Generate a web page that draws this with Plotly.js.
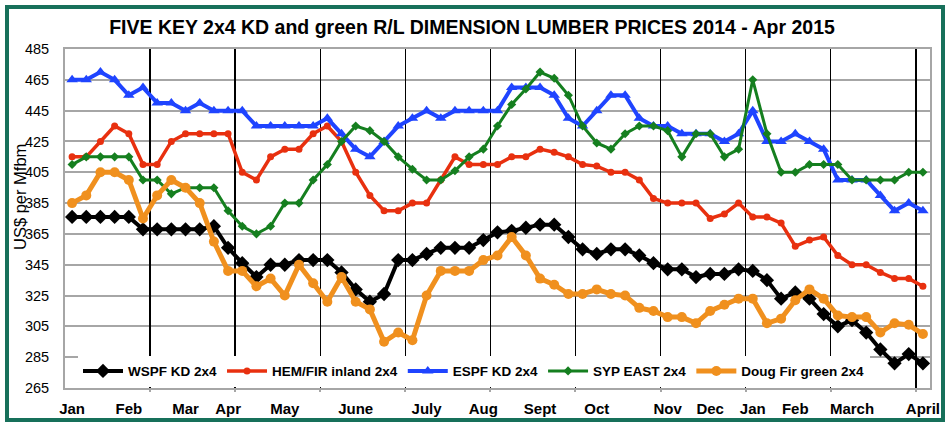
<!DOCTYPE html>
<html>
<head>
<meta charset="utf-8">
<script src="https://cdn.plot.ly/plotly-3.0.1.min.js"></script>
<style>
  html, body { margin: 0; padding: 0; background: #ffffff; }
  #chart { width: 950px; height: 422px; }
</style>
</head>
<body>
<div id="chart"></div>
<script>
// Weekly observations, Jan 2014 - Apr 2015 (US$ per Mfbm)
const weekIndex = Array.from({length: 61}, (_, i) => i);

const wspfKD = [376, 376, 376, 376, 376, 368, 368, 368, 368, 368,
                370, 356, 346, 337, 345, 345, 348, 348, 348, 340,
                329, 321, 326, 348, 348, 352, 356, 356, 356, 361,
                366, 367, 369, 371, 371, 363, 355, 352, 355, 355,
                351, 346, 342, 342, 337, 339, 339, 342, 341, 335,
                323, 327, 323, 313, 305, 309, 301, 290, 281, 287, 281];

const hemFirInland = [415, 415, 425, 435, 430, 410, 410, 425, 430, 430,
                      430, 430, 405, 400, 415, 420, 420, 430, 435, 425,
                      405, 390, 380, 380, 385, 385, 400, 415, 410, 410,
                      410, 415, 415, 420, 418, 415, 410, 409, 405, 405,
                      400, 388, 385, 385, 385, 375, 378, 385, 376, 376,
                      372, 357, 361, 363, 351, 345, 345, 340, 336, 336, 331];

const espfKD = [465, 465, 470, 465, 455, 460, 450, 450, 445, 450,
                445, 445, 445, 435, 435, 435, 435, 435, 440, 430,
                420, 415, 425, 435, 440, 445, 440, 445, 445, 445,
                445, 460, 460, 460, 455, 440, 435, 445, 455, 455,
                440, 435, 435, 430, 430, 430, 425, 430, 445, 425,
                425, 430, 425, 420, 400, 400, 400, 390, 380, 385, 380];

const sypEast = [410, 415, 415, 415, 415, 400, 400, 391, 395, 395,
                 395, 380, 370, 365, 370, 385, 385, 400, 410, 425,
                 435, 432, 425, 415, 407, 400, 400, 406, 415, 420,
                 435, 449, 459, 470, 466, 455, 435, 424, 420, 430,
                 435, 435, 432, 415, 430, 430, 415, 420, 465, 430,
                 405, 405, 410, 410, 410, 400, 400, 400, 400, 405, 405];

const dougFirGreen = [385, 390, 405, 405, 400, 375, 390, 400, 395, 385,
                      360, 341, 341, 331, 336, 325, 345, 333, 321, 337,
                      321, 316, 295, 301, 296, 325, 341, 341, 341, 348,
                      351, 363, 351, 336, 332, 326, 326, 329, 326, 325,
                      317, 315, 311, 311, 307, 315, 319, 323, 323, 307,
                      310, 322, 329, 323, 312, 311, 311, 301, 307, 306, 300];

const seriesNames = ["WSPF KD 2x4", "HEM/FIR inland 2x4", "ESPF KD 2x4", "SYP EAST 2x4", "Doug Fir green 2x4"];

// First week of each month label
const monthLabels = ["Jan", "Feb", "Mar", "Apr", "May", "June", "July", "Aug", "Sept", "Oct",
                     "Nov", "Dec", "Jan", "Feb", "March", "April"];
const monthWeek = [0, 4, 8, 11, 15, 20, 25, 29, 33, 37, 42, 45, 48, 51, 55, 60];

// vertical divider lines every 6 weeks
const dividerWeeks = [5.5, 11.5, 17.5, 23.5, 29.5, 35.5, 41.5, 47.5, 53.5, 59.5];

const yTicks = [265, 285, 305, 325, 345, 365, 385, 405, 425, 445, 465, 485];

const styles = [
  {color: "#000000", width: 4, symbol: "diamond", size: 11},
  {color: "#e8300f", width: 3.5, symbol: "circle", size: 7},
  {color: "#1f44ff", width: 4, symbol: "triangle-up", size: 10},
  {color: "#157f1f", width: 3, symbol: "diamond", size: 7},
  {color: "#f0901e", width: 5, symbol: "circle", size: 10}
];
const allSeries = [wspfKD, hemFirInland, espfKD, sypEast, dougFirGreen];

const traces = allSeries.map((ys, k) => ({
  type: "scatter",
  mode: "lines+markers",
  name: seriesNames[k],
  x: weekIndex,
  y: ys,
  line: {color: styles[k].color, width: styles[k].width},
  marker: {color: styles[k].color, symbol: styles[k].symbol, size: styles[k].size},
  xaxis: "x",
  yaxis: "y"
}));

// invisible helper trace to activate divider axis
traces.push({
  type: "scatter", mode: "none", x: [-0.5, 60.5], y: [265, 265],
  xaxis: "x2", yaxis: "y", showlegend: false, hoverinfo: "skip"
});

const W = 950, H = 422;
const mL = 65, mR = 20, mT = 49, mB = 34;
const pw = W - mL - mR, ph = H - mT - mB;
const px = (x) => (x - mL) / pw;
const py = (y) => (H - mB - y) / ph;

const layout = {
  width: W, height: H,
  margin: {l: mL, r: mR, t: mT, b: mB, pad: 0},
  paper_bgcolor: "#ffffff",
  plot_bgcolor: "#ffffff",
  showlegend: true,
  title: {
    text: "FIVE KEY 2x4 KD and green R/L DIMENSION LUMBER PRICES 2014 - Apr 2015",
    font: {family: "Liberation Sans, Arial, sans-serif", size: 19.5, color: "#000000", weight: "bold"},
    x: px(472), xanchor: "center", xref: "paper",
    y: 1 - 27 / H, yanchor: "middle", yref: "container"
  },
  xaxis: {
    range: [-0.5, 60.5],
    tickmode: "array",
    tickvals: monthWeek,
    ticktext: monthLabels,
    tickfont: {family: "Liberation Sans, Arial, sans-serif", size: 15, color: "#000000", weight: "bold"},
    ticks: "",
    ticklabelstandoff: 6,
    showgrid: false,
    zeroline: false,
    showline: true, linecolor: "#a6a6a6", linewidth: 2, mirror: true
  },
  xaxis2: {
    overlaying: "x",
    side: "bottom",
    range: [-0.5, 60.5],
    tickmode: "array",
    tickvals: dividerWeeks,
    showticklabels: false,
    ticks: "outside", ticklen: 3, tickwidth: 2, tickcolor: "#a6a6a6",
    showgrid: true, gridcolor: "#000000", gridwidth: 1.5,
    zeroline: false, showline: false
  },
  yaxis: {
    range: [265, 485],
    tickmode: "array",
    tickvals: yTicks,
    tickfont: {family: "Liberation Sans, Arial, sans-serif", size: 14.5, color: "#000000"},
    ticks: "",
    ticklabelstandoff: 11,
    showgrid: true, gridcolor: "#a6a6a6", gridwidth: 2,
    zeroline: false,
    showline: true, linecolor: "#a6a6a6", linewidth: 2, mirror: true
  },
  legend: {
    orientation: "h",
    x: px(78), xanchor: "left",
    y: 0.004, yanchor: "bottom",
    bgcolor: "#ffffff",
    borderwidth: 0,
    itemwidth: 40,
    font: {family: "Liberation Sans, Arial, sans-serif", size: 13.5, color: "#000000", weight: "bold"},
    traceorder: "normal"
  },
  annotations: [{
    text: "US$ per Mfbm",
    xref: "paper", yref: "paper",
    x: px(20), y: py(197),
    xanchor: "center", yanchor: "middle",
    textangle: -90,
    showarrow: false,
    font: {family: "Liberation Sans, Arial, sans-serif", size: 16.5, color: "#000000"}
  }],
  shapes: [{
    type: "rect", xref: "paper", yref: "paper", layer: "below",
    x0: px(7), x1: px(943), y0: py(420), y1: py(7),
    line: {color: "#17705a", width: 4},
    fillcolor: "rgba(0,0,0,0)"
  }]
};

Plotly.newPlot("chart", traces, layout, {displayModeBar: false, staticPlot: true});
</script>
</body>
</html>
